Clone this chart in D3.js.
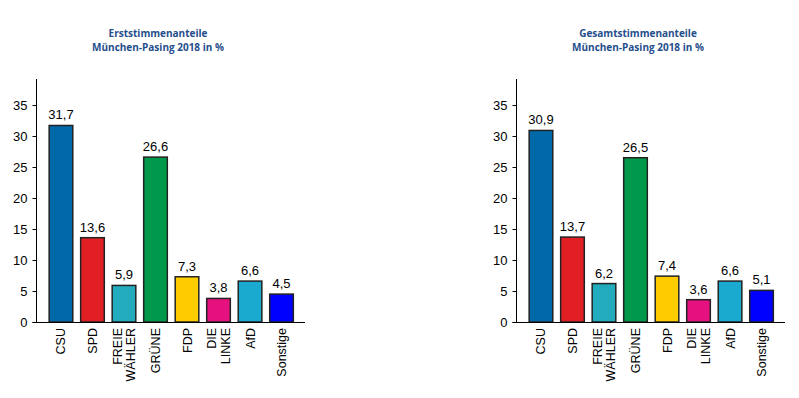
<!DOCTYPE html>
<html>
<head>
<meta charset="utf-8">
<script src="https://cdn.jsdelivr.net/npm/d3@7"></script>
<style>
  body { margin: 0; background: #fff; }
  text { font-family: "Liberation Sans", Arial, sans-serif; }
  .title { font-family: "Open Sans", "Noto Sans", sans-serif; font-weight: bold; fill: #1f4e8c; }
</style>
</head>
<body>
<script>
// data
var parties = ["CSU", "SPD", "FREIE\nWÄHLER", "GRÜNE", "FDP", "DIE\nLINKE", "AfD", "Sonstige"];
var colors = ["#0069aa", "#e31f26", "#22abbd", "#00984a", "#ffcc00", "#e5117f", "#1aa9cf", "#0000ff"];
var erststimmen = [31.7, 13.6, 5.9, 26.6, 7.3, 3.8, 6.6, 4.5];
var gesamtstimmen = [30.9, 13.7, 6.2, 26.5, 7.4, 3.6, 6.6, 5.1];
var yTicks = [0, 5, 10, 15, 20, 25, 30, 35];
var titles = [
  ["Erststimmenanteile", "München-Pasing 2018 in %"],
  ["Gesamtstimmenanteile", "München-Pasing 2018 in %"]
];

var w = 799;
var h = 398;

var svg = d3.select("body")
            .append("svg")
            .attr("width", w)
            .attr("height", h);

makeChart(svg, 0, erststimmen, titles[0]);
makeChart(svg, 480, gesamtstimmen, titles[1]);

function makeChart(svg, offsetX, values, title) {
  var g = svg.append("g").attr("transform", "translate(" + offsetX + ",0)");

  var axisX = 36.5;
  var y = d3.scaleLinear().domain([0, 39.2]).range([322, 79]);
  var x = d3.scaleBand()
            .domain(parties)
            .range([axisX + 1, 305])
            .paddingInner(0.25)
            .paddingOuter(0.37);

  // title
  g.selectAll("text.title")
   .data(title)
   .enter()
   .append("text")
   .attr("class", "title")
   .attr("x", 158)
   .attr("y", function(d, i) { return 37 + i * 14; })
   .attr("text-anchor", "middle")
   .attr("font-size", "10px")
   .text(function(d) { return d; });

  // y axis
  var yAxis = d3.axisLeft(y).tickValues(yTicks).tickSize(4).tickPadding(5);
  var ya = g.append("g")
            .attr("transform", "translate(" + axisX + ",0)")
            .call(yAxis);
  ya.select(".domain").attr("d", "M0," + y.range()[1] + "V" + (y(0) + 0.5)).attr("stroke", "#000");
  ya.selectAll("line").attr("stroke", "#000");
  ya.selectAll("text").attr("font-size", "13px").attr("fill", "#000")
    .style("font-family", "'Liberation Sans', Arial, sans-serif");

  // bars
  g.selectAll("rect.bar")
   .data(values)
   .enter()
   .append("rect")
   .attr("class", "bar")
   .attr("x", function(d, i) { return x(parties[i]); })
   .attr("y", function(d) { return y(d); })
   .attr("width", x.bandwidth())
   .attr("height", function(d) { return y(0) - y(d); })
   .attr("fill", function(d, i) { return colors[i]; })
   .attr("stroke", "#222")
   .attr("stroke-width", 1.5);

  // x baseline
  g.append("line")
   .attr("x1", axisX - 4)
   .attr("x2", 305)
   .attr("y1", y(0) + 0.5)
   .attr("y2", y(0) + 0.5)
   .attr("stroke", "#000");

  // value labels
  g.selectAll("text.val")
   .data(values)
   .enter()
   .append("text")
   .attr("class", "val")
   .attr("x", function(d, i) { return x(parties[i]) + x.bandwidth() / 2; })
   .attr("y", function(d) { return y(d) - 6; })
   .attr("text-anchor", "middle")
   .attr("font-size", "13px")
   .text(function(d) { return String(d).replace(".", ","); });

  // category labels (rotated)
  parties.forEach(function(p, i) {
    var lines = p.split("\n");
    var cx = x(p) + x.bandwidth() / 2;
    lines.forEach(function(line, j) {
      var lx = cx + (j - (lines.length - 1) / 2) * 13.5 + 4.5;
      g.append("text")
       .attr("transform", "translate(" + lx + ",328) rotate(-90)")
       .attr("text-anchor", "end")
       .attr("font-size", "12.5px")
       .text(line);
    });
  });
}
</script>
</body>
</html>
